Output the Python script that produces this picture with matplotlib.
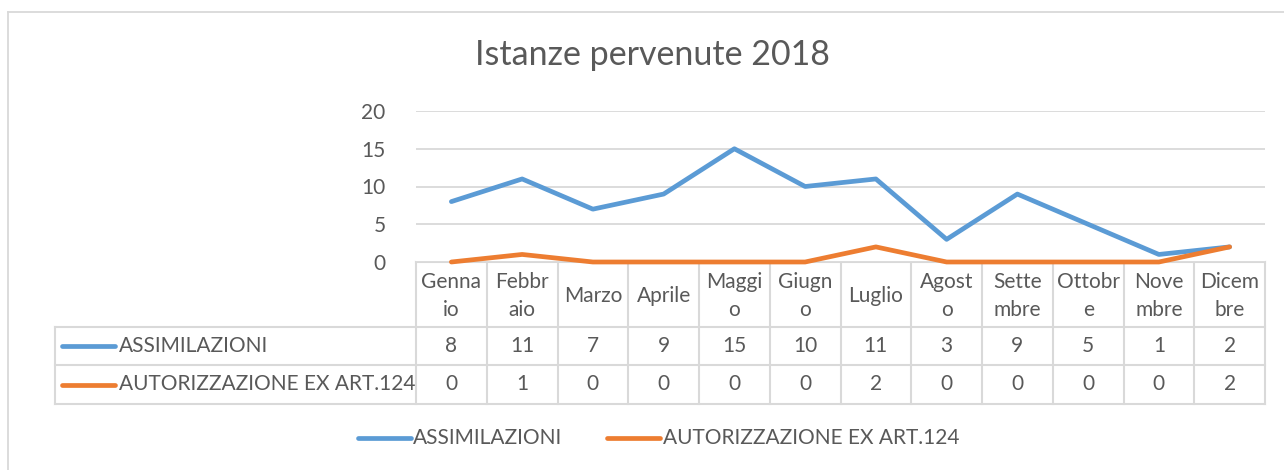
import matplotlib
matplotlib.use("Agg")
import matplotlib.pyplot as plt
import matplotlib.transforms as mtransforms

mesi = ["Genna\nio", "Febbr\naio", "Marzo", "Aprile", "Maggi\no", "Giugn\no",
        "Luglio", "Agost\no", "Sette\nmbre", "Ottobr\ne", "Nove\nmbre", "Dicem\nbre"]
assimilazioni = [8, 11, 7, 9, 15, 10, 11, 3, 9, 5, 1, 2]
autorizzazioni = [0, 1, 0, 0, 0, 0, 2, 0, 0, 0, 0, 2]
serie = ["ASSIMILAZIONI", "AUTORIZZAZIONE EX ART.124"]
colori = ["#5B9BD5", "#ED7D31"]

plt.rcParams['font.family'] = ['Lato', 'DejaVu Sans']
testo = "#595959"
griglia = "#D9D9D9"

W, H = 1284, 470
fig = plt.figure(figsize=(W / 100, H / 100), dpi=100)

# full-figure overlay in pixel coordinates (for borders, table, legend)
ov = fig.add_axes([0, 0, 1, 1])
ov.set_xlim(0, W)
ov.set_ylim(H, 0)
ov.axis("off")

x0, x1, y0, y1 = 416, 1265, 262, 111
ax = fig.add_axes([x0 / W, 1 - y0 / H, (x1 - x0) / W, (y0 - y1) / H])
ax.set_xlim(-0.5, len(mesi) - 0.5)
ax.set_ylim(0, 20)
ax.set_yticks([0, 5, 10, 15, 20])
ax.set_xticks([])
ax.grid(axis="y", color=griglia, lw=1.3)
ax.set_axisbelow(True)
for s in ax.spines.values():
    s.set_visible(False)
ax.tick_params(axis="y", length=0, pad=22, labelsize=15, labelcolor=testo)

xs = list(range(len(mesi)))
for vals, c in zip([assimilazioni, autorizzazioni], colori):
    ax.plot(xs, vals, color=c, lw=3.4, solid_capstyle="round",
            solid_joinstyle="round", clip_on=False, zorder=3)

fig.text(652 / W, 1 - 55 / H, "Istanze pervenute 2018", ha="center",
         va="center", fontsize=24.5, color=testo)

# chart border
ov.plot([8, W], [12, 12], color=griglia, lw=1.3)
ov.plot([8, 8], [12, H], color=griglia, lw=1.3)

# data table
tr = mtransforms.blended_transform_factory(ax.transData, ov.transData)
cw = (x1 - x0) / len(mesi)
rows = [262, 327, 365, 404]
lc = dict(color=griglia, lw=1.5)
ov.plot([x0, x1], [rows[0], rows[0]], **lc)
for r in rows[1:]:
    ov.plot([55, x1], [r, r], **lc)
for i in range(len(mesi) + 1):
    ov.plot([x0 + i * cw] * 2, [rows[0], rows[3]], **lc)
ov.plot([55, 55], [rows[1], rows[3]], **lc)

for i, m in enumerate(mesi):
    ax.text(i, (rows[0] + rows[1]) / 2 + 1, m, transform=tr, ha="center",
            va="center", fontsize=15, color=testo, linespacing=1.5)
for k, vals in enumerate([assimilazioni, autorizzazioni]):
    yc = (rows[k + 1] + rows[k + 2]) / 2
    for i, v in enumerate(vals):
        ax.text(i, yc, str(v), transform=tr, ha="center", va="center",
                fontsize=15, color=testo)
    ov.plot([62, 115], [yc, yc], color=colori[k], lw=3.4, solid_capstyle="round")
    ov.text(119, yc, serie[k], ha="left", va="center", fontsize=15, color=testo)

# legend below
ly = 438
for (a, b, t), c, s in zip([(358, 411, 413), (607, 660, 663)], colori, serie):
    ov.plot([a, b], [ly, ly], color=c, lw=3.4, solid_capstyle="round")
    ov.text(t, ly, s, ha="left", va="center", fontsize=15, color=testo)

fig.savefig("out.png", dpi=100)
